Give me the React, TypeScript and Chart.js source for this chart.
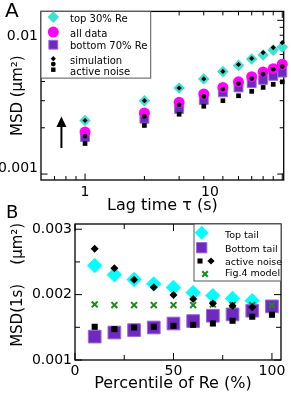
import React, { useEffect, useRef } from 'react';
import { Chart, registerables } from 'chart.js';
import { drawPoint } from 'chart.js/helpers';
Chart.register(...registerables);

const FONT = "'DejaVu Sans', sans-serif";

// ---------- Panel A : MSD vs lag time ----------
const lagTimes = [1, 2, 3, 4, 5, 6, 7, 8, 9, 10];
const msdTop30 = [0.00223, 0.0030, 0.00363, 0.00416, 0.00464, 0.00509, 0.0056, 0.00595, 0.0064, 0.0067];
const simTop30 = [0.00223, 0.0030, 0.00363, 0.00416, 0.00465, 0.00516, 0.00565, 0.00617, 0.00665, 0.00716];
const msdAll = [0.001875, 0.0025, 0.00293, 0.00332, 0.00366, 0.00398, 0.0043, 0.00462, 0.00485, 0.00518];
const simAll = [0.001766, 0.00237, 0.00282, 0.0032, 0.00357, 0.00388, 0.00418, 0.00446, 0.00481, 0.005];
const msdBottom70 = [0.00174, 0.00229, 0.00265, 0.00303, 0.0034, 0.00366, 0.0039, 0.0041, 0.00435, 0.00457];
const simBottom70 = [0.00158, 0.00207, 0.00245, 0.00276, 0.0030, 0.00323, 0.00345, 0.00366, 0.00383, 0.00398];

const aXLabelValues = [1, 4.3];
const aXLabels = ['1', '10'];
const aYLabelValues = [0.001085, 0.00786];
const aYLabels = ['0.001', '0.01'];
const aXMajor = [1, 10];
const aXMinor = [0.7, 0.8, 0.9, 2, 3, 4, 5, 6, 7, 8, 9];
const aYMajor = [0.001, 0.01];
const aYMinor = [0.002, 0.003, 0.004, 0.005, 0.006, 0.007, 0.008, 0.009];
const arrowX = 0.759;
const arrowTail = 0.001478;
const arrowTip = 0.002367;

// ---------- Panel B : MSD(1s) vs percentile ----------
const percentiles = [10, 20, 30, 40, 50, 60, 70, 80, 90, 100];
const topTail = [0.002446, 0.002303, 0.002231, 0.002165, 0.002108, 0.002031, 0.001985, 0.001942, 0.001908, null];
const bottomTail = [0.001358, 0.00142, 0.001457, 0.001497, 0.001558, 0.001595, 0.001677, 0.001697, 0.001754, 0.00182];
const noiseTop = [0.002703, 0.002405, 0.002226, 0.002112, 0.001995, 0.001934, 0.001866, 0.00183, 0.001805, null];
const noiseBottom = [0.001508, 0.001472, 0.001497, 0.001508, 0.001523, 0.001538, 0.001558, 0.0016, 0.001662, 0.001692];
const fig4Model = [0.00185, 0.00184, 0.00184, 0.00184, 0.00184, 0.00184, 0.00185, 0.00184, 0.00184, 0.00184];

const bXLabelValues = [0, 50, 100];
const bXLabels = ['0', '50', '100'];
const bYLabelValues = [0.001, 0.002, 0.003];
const bYLabels = ['0.001', '0.002', '0.003'];
const bXMajor = [0, 50, 100];
const bXMinor = [25, 75];
const bYMajor = [0.001, 0.002, 0.003];
const bYMinor = [0.0015, 0.0025];

const TURQ = '#40E0D0';
const CYAN = '#00FFFF';
const MAGENTA = '#FF00FF';
const PURPLE = '#7029c0';
const PURPLE_EDGE = '#9a6ad8';
const GREEN = '#1a8c1a';

function pts(xs: number[], ys: (number | null)[]) {
  const out: { x: number; y: number }[] = [];
  xs.forEach((x, i) => {
    const y = ys[i];
    if (y !== null && y !== undefined) out.push({ x, y });
  });
  return out;
}

function ds(label: string, xs: number[], ys: (number | null)[], style: string, radius: number, fill: string, border?: string, bw = 0) {
  return {
    label,
    data: pts(xs, ys),
    pointStyle: style,
    pointRadius: radius,
    pointHoverRadius: radius,
    pointBackgroundColor: fill,
    pointBorderColor: border ?? fill,
    pointBorderWidth: bw,
    backgroundColor: fill,
    borderColor: border ?? fill,
    showLine: false,
    clip: false,
  };
}

function makeFramePlugin(cfg: any) {
  return {
    id: 'frameTicks',
    beforeDatasetsDraw(chart: any) {
      const { ctx, chartArea } = chart;
      const { left, right, top, bottom } = chartArea;
      const xs = chart.scales.x;
      const ys = chart.scales.y;
      ctx.save();
      ctx.strokeStyle = '#000';
      ctx.lineWidth = 1;
      const tx = (vals: number[], len: number) => {
        vals.forEach((v) => {
          const p = xs.getPixelForValue(v);
          ctx.beginPath();
          ctx.moveTo(p, bottom);
          ctx.lineTo(p, bottom - len);
          ctx.moveTo(p, top);
          ctx.lineTo(p, top + len);
          ctx.stroke();
        });
      };
      const ty = (vals: number[], len: number) => {
        vals.forEach((v) => {
          const p = ys.getPixelForValue(v);
          ctx.beginPath();
          ctx.moveTo(left, p);
          ctx.lineTo(left + len, p);
          ctx.moveTo(right, p);
          ctx.lineTo(right - len, p);
          ctx.stroke();
        });
      };
      tx(cfg.xMajor, cfg.major);
      tx(cfg.xMinor, cfg.minor);
      ty(cfg.yMajor, cfg.major);
      ty(cfg.yMinor, cfg.minor);
      ctx.lineWidth = 1.3;
      ctx.strokeRect(left, top, right - left, bottom - top);
      ctx.restore();
    },
  };
}

function makeLegendPlugin(cfg: any) {
  return {
    id: 'insetLegend',
    afterDraw(chart: any) {
      const { ctx, chartArea } = chart;
      const L = chartArea.left;
      const T = chartArea.top;
      ctx.save();
      const x0 = L + cfg.box[0];
      const y0 = T + cfg.box[1];
      const x1 = cfg.box[2] === null ? chartArea.right : L + cfg.box[2];
      const y1 = T + cfg.box[3];
      ctx.fillStyle = '#fff';
      ctx.fillRect(x0, y0, x1 - x0, y1 - y0);
      ctx.strokeStyle = '#555';
      ctx.lineWidth = 1;
      ctx.strokeRect(x0, y0, x1 - x0, y1 - y0);
      cfg.markers.forEach((m: any) => {
        ctx.fillStyle = m.fill;
        ctx.strokeStyle = m.stroke ?? m.fill;
        ctx.lineWidth = m.bw ?? 0;
        drawPoint(ctx, { pointStyle: m.style, radius: m.r, rotation: 0, borderWidth: m.bw ?? 0 }, L + m.x, T + m.y);
      });
      ctx.fillStyle = '#000';
      ctx.font = `${cfg.fontSize}px ${FONT}`;
      ctx.textBaseline = 'alphabetic';
      ctx.textAlign = 'left';
      cfg.texts.forEach((t: any) => ctx.fillText(t.text, L + cfg.textX, T + t.y));
      if (cfg.letter) {
        ctx.font = `${cfg.letter.size}px ${FONT}`;
        ctx.fillText(cfg.letter.text, cfg.letter.x, cfg.letter.y);
      }
      if (cfg.arrow) {
        const x = chart.scales.x.getPixelForValue(cfg.arrow.x);
        const yTail = chart.scales.y.getPixelForValue(cfg.arrow.from);
        const yTip = chart.scales.y.getPixelForValue(cfg.arrow.to);
        ctx.strokeStyle = '#000';
        ctx.lineWidth = 2;
        ctx.beginPath();
        ctx.moveTo(x, yTail);
        ctx.lineTo(x, yTip + 8);
        ctx.stroke();
        ctx.beginPath();
        ctx.moveTo(x, yTip);
        ctx.lineTo(x - 5, yTip + 10.5);
        ctx.lineTo(x + 5, yTip + 10.5);
        ctx.closePath();
        ctx.fill();
      }
      ctx.restore();
    },
  };
}

function axis(type: string, min: number, max: number, labelValues: number[], labels: string[], fit: (s: any) => void, tickPad: number, title: string, titleSize: number, titlePad: any) {
  return {
    type,
    min,
    max,
    bounds: 'data',
    grid: { display: false, drawTicks: false },
    border: { display: false },
    afterBuildTicks: (s: any) => {
      s.ticks = labelValues.map((v) => ({ value: v }));
    },
    afterFit: fit,
    ticks: {
      autoSkip: false,
      maxRotation: 0,
      minRotation: 0,
      padding: tickPad,
      color: '#000',
      font: { family: FONT, size: 14 },
      callback: (_v: any, i: number) => labels[i],
    },
    title: {
      display: true,
      text: title,
      color: '#000',
      font: { family: FONT, size: titleSize },
      padding: titlePad,
    },
  };
}

function configA(): any {
  return {
    type: 'scatter',
    data: {
      datasets: [
        ds('simulation top', lagTimes, simTop30, 'rectRot', 2.6, '#000'),
        ds('simulation all', lagTimes, simAll, 'circle', 2.4, '#000'),
        ds('simulation bottom', lagTimes, simBottom70, 'rect', 3.3, '#000'),
        ds('all data', lagTimes, msdAll, 'circle', 5.5, MAGENTA),
        ds('bottom 70% Re', lagTimes, msdBottom70, 'rect', 6.3, PURPLE, PURPLE_EDGE, 1),
        ds('top 30% Re', lagTimes, msdTop30, 'rectRot', 5.8, TURQ),
      ],
    },
    options: {
      responsive: false,
      maintainAspectRatio: false,
      devicePixelRatio: 1,
      animation: false,
      events: [],
      layout: { padding: { top: 10, right: 5, left: 0, bottom: 0 } },
      plugins: { legend: { display: false }, tooltip: { enabled: false } },
      scales: {
        x: axis('logarithmic', 0.598, 10.17, aXLabelValues, aXLabels, (s: any) => { s.height = 42; }, 3.5, 'Lag time τ (s)', 16, { top: 0, bottom: 6.4 }),
        y: axis('logarithmic', 0.0009148, 0.01143, aYLabelValues, aYLabels, (s: any) => { s.width = 41; }, 3, 'MSD (μm²)', 15, { top: 9.6, bottom: 0 }),
      },
    },
    plugins: [
      makeFramePlugin({ xMajor: aXMajor, xMinor: aXMinor, yMajor: aYMajor, yMinor: aYMinor, major: 6.5, minor: 4 }),
      makeLegendPlugin({
        box: [0, 0, 109.7, 66.7],
        fontSize: 10,
        textX: 29,
        texts: [
          { text: 'top 30% Re', y: 10.5 },
          { text: 'all data', y: 26 },
          { text: 'bottom 70% Re', y: 37.7 },
          { text: 'simulation', y: 52.3 },
          { text: 'active noise', y: 63.3 },
        ],
        markers: [
          { style: 'rectRot', r: 5.8, fill: TURQ, x: 12.3, y: 5.7 },
          { style: 'circle', r: 5.5, fill: MAGENTA, x: 12.3, y: 20.7 },
          { style: 'rect', r: 6.3, fill: PURPLE, stroke: PURPLE_EDGE, bw: 1, x: 12.3, y: 33.3 },
          { style: 'rectRot', r: 2.6, fill: '#000', x: 12.3, y: 47.3 },
          { style: 'circle', r: 2.4, fill: '#000', x: 12.3, y: 52.7 },
          { style: 'rect', r: 3.1, fill: '#000', x: 12.3, y: 58.3 },
        ],
        letter: { text: 'A', size: 20, x: 5, y: 16.7 },
        arrow: { x: arrowX, from: arrowTail, to: arrowTip },
      }),
    ],
  };
}

function configB(): any {
  return {
    type: 'scatter',
    data: {
      datasets: [
        ds('active noise top', percentiles, noiseTop, 'rectRot', 4, '#000'),
        ds('active noise bottom', percentiles, noiseBottom, 'rect', 4.3, '#000'),
        ds('Fig.4 model', percentiles, fig4Model, 'crossRot', 4.2, GREEN, GREEN, 2),
        ds('Bottom tail', percentiles, bottomTail, 'rect', 9, PURPLE, PURPLE_EDGE, 1),
        ds('Top tail', percentiles, topTail, 'rectRot', 7.7, CYAN),
      ],
    },
    options: {
      responsive: false,
      maintainAspectRatio: false,
      devicePixelRatio: 1,
      animation: false,
      events: [],
      layout: { padding: { top: 29, right: 5, left: 0, bottom: 0 } },
      plugins: { legend: { display: false }, tooltip: { enabled: false } },
      scales: {
        x: axis('linear', 0, 104.6, bXLabelValues, bXLabels, (s: any) => { s.height = 35; }, 3, 'Percentile of Re (%)  ', 16, { top: 0, bottom: 1.9 }),
        y: axis('linear', 0.001, 0.00308, bYLabelValues, bYLabels, (s: any) => { s.width = 75; }, 3, '   MSD(1s)    (μm²)', 15, { top: 8.8, bottom: 0 }),
      },
    },
    plugins: [
      makeFramePlugin({ xMajor: bXMajor, xMinor: bXMinor, yMajor: bYMajor, yMinor: bYMinor, major: 7, minor: 5 }),
      makeLegendPlugin({
        box: [119, 0, null, 57],
        fontSize: 9.5,
        textX: 150,
        texts: [
          { text: 'Top tail', y: 13.5 },
          { text: 'Bottom tail', y: 28 },
          { text: 'active noise', y: 40.5 },
          { text: 'Fig.4 model', y: 52 },
        ],
        markers: [
          { style: 'rectRot', r: 7, fill: CYAN, x: 126.7, y: 8.7 },
          { style: 'rect', r: 7.3, fill: PURPLE, stroke: PURPLE_EDGE, bw: 1, x: 126.7, y: 23.7 },
          { style: 'rect', r: 3.6, fill: '#000', x: 125, y: 37 },
          { style: 'rectRot', r: 3.6, fill: '#000', x: 136, y: 37 },
          { style: 'crossRot', r: 4, fill: GREEN, stroke: GREEN, bw: 2, x: 130, y: 50 },
        ],
        letter: { text: 'B', size: 18, x: 6, y: 22.7 },
      }),
    ],
  };
}

export default function App() {
  const refA = useRef<HTMLCanvasElement>(null);
  const refB = useRef<HTMLCanvasElement>(null);
  useEffect(() => {
    document.body.style.margin = '0';
    const a = new Chart(refA.current as HTMLCanvasElement, configA());
    const b = new Chart(refB.current as HTMLCanvasElement, configB());
    return () => {
      a.destroy();
      b.destroy();
    };
  }, []);
  return (
    <div style={{ position: 'relative', width: 291, height: 395, background: '#fff', overflow: 'hidden' }}>
      <canvas ref={refA} width={291} height={222} style={{ position: 'absolute', left: 0, top: 0, width: 291, height: 222 }} />
      <canvas ref={refB} width={291} height={200} style={{ position: 'absolute', left: 0, top: 195, width: 291, height: 200 }} />
    </div>
  );
}
